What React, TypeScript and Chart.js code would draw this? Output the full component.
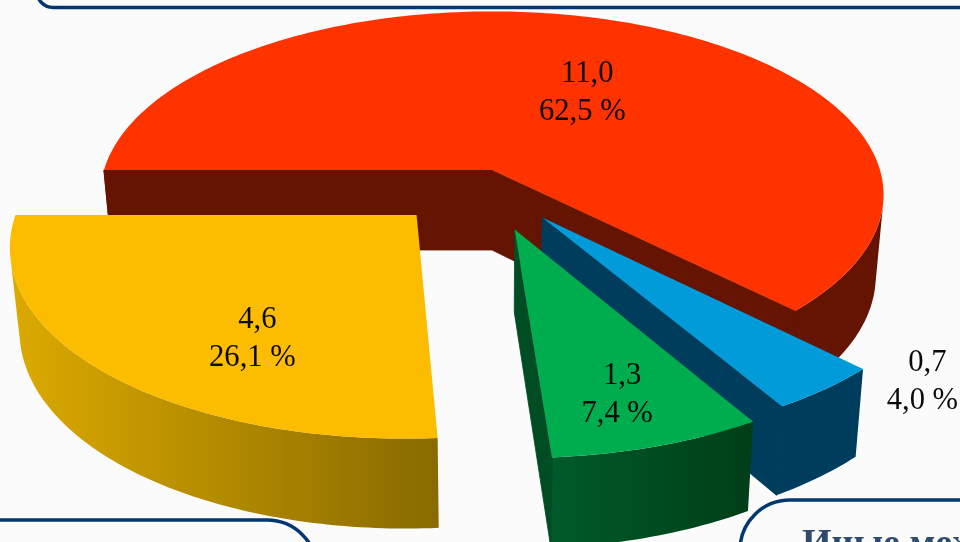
import React, { useEffect, useRef } from "react";
import { Chart, ArcElement, PieController } from "chart.js";

// ---- data ----
const categories = ["Красный", "Синий", "Зелёный", "Жёлтый"];
const values = [11.0, 0.7, 1.3, 4.6];
const percents = [62.5, 4.0, 7.4, 26.1];
const boxText = "Иные межбюджетные трансферты";

// ---- styles ----
const topColors = ["#ff3300", "#009bd8", "#00ad4e", "#fcbc00"];
const wallColors = ["#641400", "#003d5c", "#004d24", "#8a6c00"];
const bandColors: [string, string][] = [
  ["#641400", "#641400"],
  ["#003d5c", "#003d5c"],
  ["#005a2a", "#003e18"],
  ["#dcaa00", "#886a00"],
];
// explosion of each slice, in disc radii
const explodeU = [0, 0.125, 0.056, -0.188];
const explodeV = [0, 0.255, 0.316, 0.242];
// label anchor, in disc radii from the slice apex
const labelU = [0.247, 0.832, 0.22, -0.36];
const labelV = [-0.453, 0.762, 0.752, 0.592];

const X_STRETCH = 388 / 170;
const Y_STRETCH = 180 / 170;
const PERSPECTIVE = 0.135;
const BOTTOM_SHRINK = 0.98;
const DEPTH = 80;
const DEPTH_GROW = 8;

type Pt = [number, number];

const signedArea = (q: Pt[]) =>
  q.reduce((sum, p, n) => {
    const r = q[(n + 1) % q.length];
    return sum + p[0] * r[1] - r[0] * p[1];
  }, 0);

class Arc3D extends ArcElement {
  static id = "arc3d";
  sliceIndex = 0;

  top(u: number, v: number): Pt {
    const { x, y, outerRadius } = (this as any).getProps(["x", "y", "outerRadius"]);
    const s = 1 / (1 - PERSPECTIVE * v);
    return [x + s * u * outerRadius * X_STRETCH, y + s * v * outerRadius * Y_STRETCH];
  }

  bottom(u: number, v: number): Pt {
    const { x } = (this as any).getProps(["x"]);
    const [px, py] = this.top(u, v);
    return [x + BOTTOM_SHRINK * (px - x), py + DEPTH + DEPTH_GROW * v];
  }

  draw(ctx: CanvasRenderingContext2D) {
    const { startAngle, endAngle } = (this as any).getProps(["startAngle", "endAngle"]);
    const i = this.sliceIndex;
    const su = explodeU[i];
    const sv = explodeV[i];
    const steps = Math.max(8, Math.ceil(((endAngle - startAngle) * 180) / Math.PI));
    const rim: Pt[] = [];
    for (let k = 0; k <= steps; k++) {
      const a = startAngle + ((endAngle - startAngle) * k) / steps;
      rim.push([su + Math.cos(a), sv + Math.sin(a)]);
    }
    const trace = (pts: Pt[]) => {
      pts.forEach((p, n) => (n ? ctx.lineTo(p[0], p[1]) : ctx.moveTo(p[0], p[1])));
      ctx.closePath();
    };
    const first = rim[0];
    const last = rim[rim.length - 1];
    ctx.save();
    // cut walls, only where they face the viewer
    const wallStart = [this.top(su, sv), this.top(first[0], first[1]), this.bottom(first[0], first[1]), this.bottom(su, sv)];
    const wallEnd = [this.top(su, sv), this.top(last[0], last[1]), this.bottom(last[0], last[1]), this.bottom(su, sv)];
    const showStart = signedArea(wallStart) < 0;
    const showEnd = signedArea(wallEnd) > 0;
    ctx.fillStyle = wallColors[i];
    ctx.strokeStyle = wallColors[i];
    ctx.lineWidth = 0.8;
    if (showStart) {
      ctx.beginPath();
      trace(wallStart);
      ctx.fill();
      ctx.stroke();
    }
    if (showEnd) {
      ctx.beginPath();
      trace(wallEnd);
      ctx.fill();
      ctx.stroke();
    }
    // outer band: front-facing quads only, as one path so no seams appear
    const bandTop = rim.map((p) => this.top(p[0], p[1]));
    const bandBottom = rim.map((p) => this.bottom(p[0], p[1]));
    const xs = bandTop.map((p) => p[0]);
    const g = ctx.createLinearGradient(Math.min(...xs), 0, Math.max(...xs), 0);
    g.addColorStop(0, bandColors[i][0]);
    g.addColorStop(1, bandColors[i][1]);
    ctx.beginPath();
    for (let k = 0; k < steps; k++) {
      const quad = [bandTop[k], bandTop[k + 1], bandBottom[k + 1], bandBottom[k]];
      if (signedArea(quad) < 0) trace(quad);
    }
    ctx.fillStyle = g;
    ctx.fill();
    // close the seam where a visible wall meets the band
    ctx.lineWidth = 1.2;
    const seam = (a: Pt, b: Pt) => {
      ctx.beginPath();
      ctx.moveTo(a[0], a[1]);
      ctx.lineTo(b[0], b[1]);
      ctx.stroke();
    };
    if (showStart) seam(wallStart[1], wallStart[2]);
    if (showEnd) seam(wallEnd[1], wallEnd[2]);
    // top face
    ctx.beginPath();
    trace([this.top(su, sv), ...bandTop]);
    ctx.fillStyle = (this as any).options.backgroundColor;
    ctx.fill();
    ctx.restore();
  }
}

class Pie3DController extends PieController {
  static id = "pie3d";
  static defaults = { dataElementType: "arc3d" };
  updateElements(arcs: any[], start: number, count: number, mode: any) {
    super.updateElements(arcs, start, count, mode);
    arcs.forEach((a, n) => {
      a.sliceIndex = n;
    });
  }
}

const framesPlugin = {
  id: "frames",
  beforeDatasetsDraw(chart: any) {
    const ctx: CanvasRenderingContext2D = chart.ctx;
    ctx.save();
    ctx.strokeStyle = "#03376f";
    ctx.lineWidth = 3.5;
    ctx.beginPath();
    ctx.roundRect(37, -60, 1000, 67.5, 16);
    ctx.stroke();
    ctx.beginPath();
    ctx.roundRect(-100, 520, 417, 100, 50);
    ctx.stroke();
    ctx.beginPath();
    ctx.roundRect(740, 500, 400, 100, 60);
    ctx.stroke();
    ctx.fillStyle = "#2e4a6e";
    ctx.font = "bold 38px 'Liberation Serif'";
    ctx.textAlign = "left";
    ctx.textBaseline = "alphabetic";
    ctx.fillText(boxText, 802, 555);
    ctx.restore();
  },
};

const fmt = (n: number) => n.toFixed(1).replace(".", ",");

const labelsPlugin = {
  id: "sliceLabels",
  afterDatasetsDraw(chart: any) {
    const ctx: CanvasRenderingContext2D = chart.ctx;
    const arcs = chart.getDatasetMeta(0).data;
    ctx.save();
    ctx.fillStyle = "#0a0a0a";
    ctx.font = "30.6px 'Liberation Serif'";
    ctx.textAlign = "center";
    ctx.textBaseline = "middle";
    arcs.forEach((arc: Arc3D, i: number) => {
      const [x, y] = arc.top(explodeU[i] + labelU[i], explodeV[i] + labelV[i]);
      ctx.fillText(fmt(values[i]), x + 5, y - 19);
      ctx.fillText(`${fmt(percents[i])} %`, x, y + 19);
    });
    ctx.restore();
  },
};

Chart.register(Arc3D, Pie3DController);

export default function App() {
  const ref = useRef<HTMLCanvasElement>(null);
  useEffect(() => {
    document.body.style.margin = "0";
    document.body.style.background = "#fbfbfb";
    const chart = new Chart(ref.current!, {
      type: "pie3d" as any,
      data: {
        labels: categories,
        datasets: [
          {
            data: values,
            backgroundColor: topColors,
            borderWidth: 0,
            rotation: 270,
          } as any,
        ],
      },
      options: {
        responsive: false,
        animation: false,
        layout: { padding: { left: 24, right: 0, top: 0, bottom: 202 } },
        plugins: { legend: { display: false }, tooltip: { enabled: false } },
      } as any,
      plugins: [framesPlugin, labelsPlugin],
    });
    return () => chart.destroy();
  }, []);
  return (
    <div style={{ width: 960, height: 542, overflow: "hidden", background: "#fbfbfb" }}>
      <canvas ref={ref} width={960} height={542} style={{ display: "block" }} />
    </div>
  );
}
